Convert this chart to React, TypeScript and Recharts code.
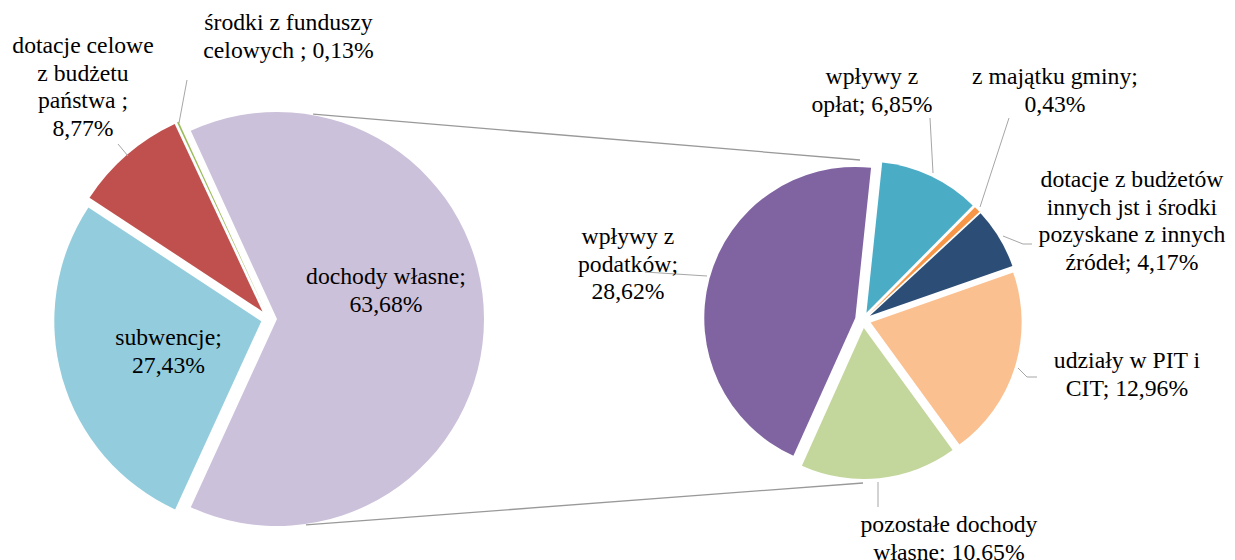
import React from 'react';
import { PieChart, Pie, Cell, Customized } from 'recharts';

// ---------- data ----------
const mainCategories = [
  'dochody własne',
  'środki z funduszy celowych',
  'dotacje celowe z budżetu państwa',
  'subwencje',
];
const mainValues = [63.68, 0.13, 8.77, 27.43];
const mainLabelLines = [
  ['dochody własne;', '63,68%'],
  ['środki z funduszy', 'celowych ; 0,13%'],
  ['dotacje celowe', 'z budżetu', 'państwa ;', '8,77%'],
  ['subwencje;', '27,43%'],
];
const mainColors = ['#CCC1DA', '#9BBB59', '#C0504D', '#93CDDD'];

const subCategories = [
  'wpływy z opłat',
  'z majątku gminy',
  'dotacje z budżetów innych jst i środki pozyskane z innych źródeł',
  'udziały w PIT i CIT',
  'pozostałe dochody własne',
  'wpływy z podatków',
];
const subValues = [6.85, 0.43, 4.17, 12.96, 10.65, 28.62];
const subLabelLines = [
  ['wpływy z', 'opłat; 6,85%'],
  ['z majątku gminy;', '0,43%'],
  ['dotacje z budżetów', 'innych jst i środki', 'pozyskane z innych', 'źródeł; 4,17%'],
  ['udziały w PIT i', 'CIT; 12,96%'],
  ['pozostałe dochody', 'własne; 10,65%'],
  ['wpływy z', 'podatków;', '28,62%'],
];
const subColors = ['#4BACC6', '#F79646', '#2C4D75', '#FAC090', '#C3D69B', '#8064A2'];

// ---------- layout ----------
const W = 1235;
const H = 560;
const FONT = "'Liberation Serif', 'Times New Roman', serif";
const FONT_SIZE = 23.7;
const LINE_H = 27.5;

const L = { cx: 269, cy: 319, r: 207 };
const R = { cx: 863, cy: 320, r: 151 };

const mainTotal = mainValues.reduce((a, b) => a + b, 0);
const mainStart = -(mainValues[0] / mainTotal) * 180;
const mainEnd = mainStart + 360;
const subStart = 84;
const subEnd = subStart - 360;

const mainExplode = [8, 10, 10, 8];
const subExplode = [8, 8, 8, 8, 8, 8];

// label placement relative to pie centre: text centre x, first baseline y, leader line points
const mainLabelPos = [
  { dx: 117, dy: -35, line: [] as number[][] },
  { dx: 19.5, dy: -289, line: [[-82, -239], [-90, -196]] },
  { dx: -186, dy: -266, line: [[-151, -175], [-141, -163]] },
  { dx: -100.5, dy: 26, line: [] as number[][] },
];
const subLabelPos = [
  { dx: 9, dy: -236, line: [[67, -202], [70, -147]] },
  { dx: 192, dy: -236, line: [[146, -202], [117, -113]] },
  { dx: 269, dy: -133, line: [[140, -84], [160, -76], [169, -76]] },
  { dx: 264, dy: 48, line: [[155, 48], [164, 57], [174, 57]] },
  { dx: 86, dy: 212, line: [[15, 162], [15, 187]] },
  { dx: -235, dy: -76, line: [[-218, -48], [-156, -44]] },
];

const RAD = Math.PI / 180;

function midAngles(values: number[], start: number, end: number) {
  const total = values.reduce((a, b) => a + b, 0);
  const span = end - start;
  let a = start;
  return values.map((v) => {
    const s = (span * v) / total;
    const m = a + s / 2;
    a += s;
    return m;
  });
}

const mainMid = midAngles(mainValues, mainStart, mainEnd);
const subMid = midAngles(subValues, subStart, subEnd);

const mainData = mainCategories.map((name, i) => ({ name, value: mainValues[i] }));
const subData = subCategories.map((name, i) => ({ name, value: subValues[i] }));

function offset(mid: number, d: number) {
  return { x: d * Math.cos(mid * RAD), y: -d * Math.sin(mid * RAD) };
}

function makeLabel(lines: string[][], pos: typeof mainLabelPos) {
  return (props: any) => {
    const { cx, cy, index } = props;
    const p = pos[index];
    const txt = lines[index];
    return (
      <g key={`lbl-${index}`}>
        {p.line.length > 0 && (
          <polyline
            points={p.line.map(([x, y]) => `${cx + x},${cy + y}`).join(' ')}
            fill="none"
            stroke="#A6A6A6"
            strokeWidth={1}
          />
        )}
        <text
          x={cx + p.dx}
          y={cy + p.dy}
          textAnchor="middle"
          fontFamily={FONT}
          fontSize={FONT_SIZE}
          fill="#000"
        >
          {txt.map((t, k) => (
            <tspan key={k} x={cx + p.dx} y={cy + p.dy + k * LINE_H}>
              {t}
            </tspan>
          ))}
        </text>
      </g>
    );
  };
}

const Connectors = () => {
  const o = offset(mainMid[0], mainExplode[0]);
  const lcx = L.cx + o.x;
  const lcy = L.cy + o.y;
  const rr = L.r + 1;
  const topL = { x: lcx + rr * Math.cos(80 * RAD), y: lcy - rr * Math.sin(80 * RAD) };
  const botL = { x: lcx + rr * Math.cos(-82 * RAD), y: lcy - rr * Math.sin(-82 * RAD) };
  const topR = { x: R.cx - 3, y: R.cy - R.r - 9 };
  const botR = { x: R.cx, y: R.cy + R.r + 12 };
  return (
    <g>
      <line x1={topL.x} y1={topL.y} x2={topR.x} y2={topR.y} stroke="#999" strokeWidth={1.3} />
      <line x1={botL.x} y1={botL.y} x2={botR.x} y2={botR.y} stroke="#999" strokeWidth={1.3} />
    </g>
  );
};

export default function App() {
  return (
    <div style={{ position: 'absolute', left: 0, top: 0, width: W, height: H, background: '#fff' }}>
      <PieChart width={W} height={H} margin={{ top: 0, right: 0, bottom: 0, left: 0 }}>
        <Customized component={Connectors} />
        <Pie
          data={mainData}
          dataKey="value"
          nameKey="name"
          cx={L.cx}
          cy={L.cy}
          outerRadius={L.r}
          startAngle={mainStart}
          endAngle={mainEnd}
          stroke="none"
          isAnimationActive={false}
          labelLine={false}
          label={makeLabel(mainLabelLines, mainLabelPos)}
        >
          {mainData.map((d, i) => {
            const o = offset(mainMid[i], mainExplode[i]);
            return (
              <Cell
                key={d.name}
                fill={mainColors[i]}
                stroke="none"
                transform={`translate(${o.x},${o.y})`}
              />
            );
          })}
        </Pie>
        <Pie
          data={subData}
          dataKey="value"
          nameKey="name"
          cx={R.cx}
          cy={R.cy}
          outerRadius={R.r}
          startAngle={subStart}
          endAngle={subEnd}
          stroke="none"
          isAnimationActive={false}
          labelLine={false}
          label={makeLabel(subLabelLines, subLabelPos)}
        >
          {subData.map((d, i) => {
            const o = offset(subMid[i], subExplode[i]);
            return (
              <Cell
                key={d.name}
                fill={subColors[i]}
                stroke="none"
                transform={`translate(${o.x},${o.y})`}
              />
            );
          })}
        </Pie>
      </PieChart>
    </div>
  );
}
